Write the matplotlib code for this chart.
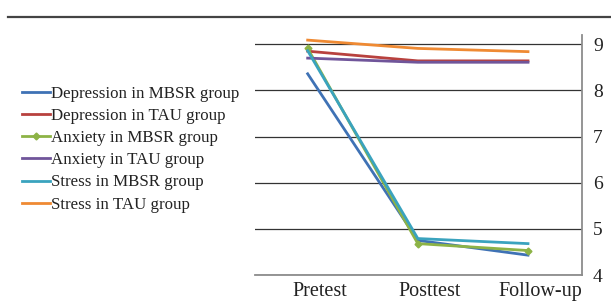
import numpy as np
import matplotlib
matplotlib.use("Agg")
import matplotlib.pyplot as plt
from matplotlib.lines import Line2D
from matplotlib.transforms import ScaledTranslation

plt.rcParams['font.family'] = ['Liberation Serif', 'DejaVu Serif']

categories = ["Pretest", "Posttest", "Follow-up"]
dep_mbsr = [8.36, 4.75, 4.43]
dep_tau = [8.85, 8.64, 8.64]
anx_mbsr = [8.91, 4.68, 4.53]
anx_tau = [8.70, 8.61, 8.61]
str_mbsr = [8.86, 4.79, 4.68]
str_tau = [9.09, 8.91, 8.84]

series = [
    ("Depression in MBSR group", dep_mbsr, "#3F72B5", None),
    ("Depression in TAU group", dep_tau, "#B8413E", None),
    ("Anxiety in MBSR group", anx_mbsr, "#8DB346", "D"),
    ("Anxiety in TAU group", anx_tau, "#70559A", None),
    ("Stress in MBSR group", str_mbsr, "#3AA3BE", None),
    ("Stress in TAU group", str_tau, "#EF8A33", None),
]

fig = plt.figure(figsize=(6.11, 3.02), dpi=100)
ax = fig.add_axes([0.417, 0.0894, 0.5355, 0.7946])

x = np.arange(len(categories))
for label, vals, col, mk in series:
    ax.plot(x, vals, color=col, lw=2, marker=mk, markersize=3.5, label=label)

ax.set_xlim(-0.48, 2.49)
ax.set_ylim(4, 9.2)
ax.set_yticks([4, 5, 6, 7, 8, 9])
ax.yaxis.tick_right()
ax.grid(axis="y", color="#333333", lw=0.9)
ax.set_axisbelow(True)
for s in ["left", "top"]:
    ax.spines[s].set_visible(False)
for s in ["right", "bottom"]:
    ax.spines[s].set_color("#8c8c8c")
    ax.spines[s].set_linewidth(1.3)
ax.tick_params(axis="y", length=0, labelsize=14, pad=8, colors="#222222")
ax.tick_params(axis="x", length=0, labelsize=14.5, pad=5, colors="#222222")
ax.set_xticks(x)
ax.set_xticklabels(categories)
for t in ax.get_xticklabels():
    t.set_transform(t.get_transform() + ScaledTranslation(0.12, 0, fig.dpi_scale_trans))

leg = fig.legend(loc="upper left", bbox_to_anchor=(0.036, 0.715), frameon=False,
                 fontsize=12.2, handlelength=1.65, handletextpad=0.08,
                 labelspacing=0.36, borderpad=0, borderaxespad=0)
for t in leg.get_texts():
    t.set_color("#222222")

fig.add_artist(Line2D([0.013, 1.0], [0.944, 0.944], color="#444444", lw=1.6,
                      transform=fig.transFigure))

fig.savefig("out.png", dpi=100)
